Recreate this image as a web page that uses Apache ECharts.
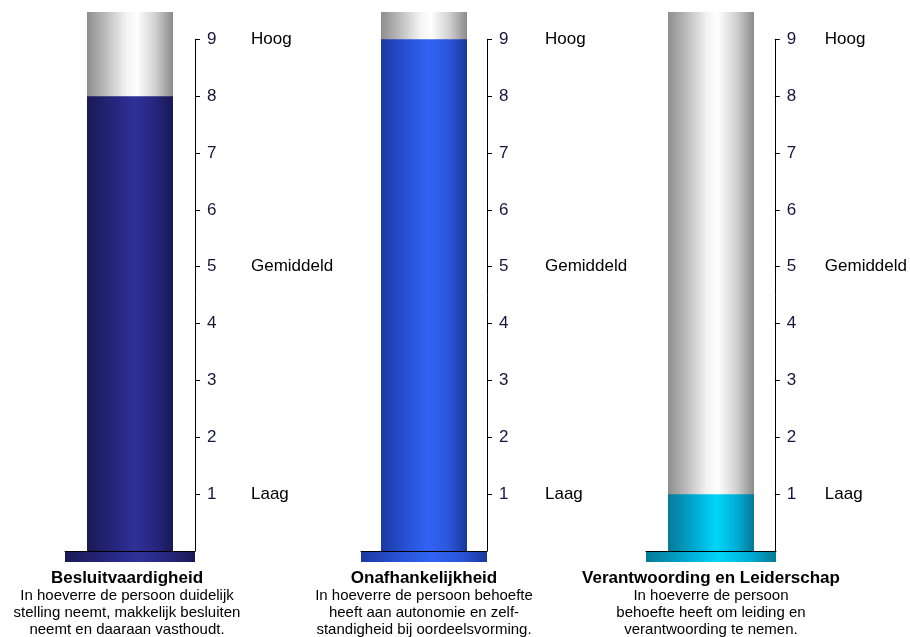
<!DOCTYPE html>
<html><head><meta charset="utf-8">
<script src="https://cdn.jsdelivr.net/npm/echarts@6/dist/echarts.min.js"></script>
<style>html,body{margin:0;padding:0;background:#fff}#c{width:910px;height:637px}</style>
</head><body><div id="c"></div>
<script>
// ---- data ----
const categories = ['Besluitvaardigheid', 'Onafhankelijkheid', 'Verantwoording en Leiderschap'];
const scores = [8, 9, 1];
const descriptions = [
  ['In hoeverre de persoon duidelijk', 'stelling neemt, makkelijk besluiten', 'neemt en daaraan vasthoudt.'],
  ['In hoeverre de persoon behoefte', 'heeft aan autonomie en zelf-', 'standigheid bij oordeelsvorming.'],
  ['In hoeverre de persoon', 'behoefte heeft om leiding en', 'verantwoording te nemen.']
];
const scaleTicks = ['', '1', '2', '3', '4', '5', '6', '7', '8', '9'];
const tickValues = [1, 2, 3, 4, 5, 6, 7, 8, 9];
const levelLabels = ['', 'Laag', '', '', '', 'Gemiddeld', '', '', '', 'Hoog'];
const levelValues = [1, 5, 9];
const scaleMax = 9;
const tubeMax = 9.48;

// ---- layout / style ----
const FONT = '"Liberation Sans", Arial, sans-serif';
const cols = [
  { left: 65, width: 130, levelMargin: 56, captionX: 127 },
  { left: 361, width: 126, levelMargin: 58, captionX: 424 },
  { left: 646, width: 130, levelMargin: 50, captionX: 711 }
];
const baseY = 551, tubeTop = 12;
const unitPx = (baseY - tubeTop) / tubeMax;
const axisTop = baseY - unitPx * scaleMax;

function grad(colors, pos) {
  return { type: 'linear', x: 0, y: 0, x2: 1, y2: 0,
    colorStops: colors.map((c, k) => ({ offset: pos[k], color: c })) };
}
const fillPos = [0, 0.3, 0.56, 0.8, 1];
const fillColors = [
  ['#1a1a56', '#25257c', '#30309a', '#26267e', '#191955'],
  ['#1b39a0', '#2852d6', '#3164f5', '#2a55d8', '#1a379c'],
  ['#067a98', '#00a8d0', '#00d6fa', '#00aed6', '#067896']
];
const tubeGrad = grad(['#8e8e8e', '#b8b8b8', '#f2f2f2', '#ffffff', '#cfcfcf', '#8a8a8a'],
                      [0, 0.2, 0.45, 0.58, 0.8, 1]);

const grid = [], xAxis = [], yAxis = [], series = [], graphic = [];
cols.forEach((c, i) => {
  grid[i] = { left: c.left, width: c.width, top: tubeTop, height: baseY - tubeTop };
  grid[3 + i] = { left: c.left, width: c.width, top: axisTop, height: baseY - axisTop };
  xAxis[i] = { type: 'category', gridIndex: i, data: [categories[i]],
    axisLine: { show: true, lineStyle: { color: '#000', width: 1 } },
    axisTick: { show: false }, axisLabel: { show: false } };
  xAxis[3 + i] = { type: 'category', gridIndex: 3 + i, data: [categories[i]], show: false };
  yAxis[i] = { type: 'value', gridIndex: i, min: 0, max: tubeMax, show: false };
  yAxis[3 + i] = { type: 'value', gridIndex: 3 + i, position: 'right', min: 0, max: scaleMax, interval: 1,
    axisLine: { show: true, lineStyle: { color: '#000', width: 1 } },
    axisTick: { show: true, length: 5, customValues: tickValues, lineStyle: { color: '#000' } },
    splitLine: { show: false },
    axisLabel: { margin: 12, fontSize: 17, color: '#16163a', fontFamily: FONT, customValues: tickValues,
      formatter: v => scaleTicks[v] || '' } };
  yAxis[6 + i] = { type: 'value', gridIndex: 3 + i, position: 'right', min: 0, max: scaleMax, interval: 1,
    axisLine: { show: false }, axisTick: { show: false }, splitLine: { show: false },
    axisLabel: { margin: c.levelMargin, fontSize: 17, color: '#000', fontFamily: FONT, customValues: levelValues,
      formatter: v => levelLabels[v] || '' } };
  series.push({ type: 'bar', xAxisIndex: i, yAxisIndex: i, data: [scores[i]], barWidth: 86,
    showBackground: true, backgroundStyle: { color: tubeGrad },
    itemStyle: { color: grad(fillColors[i], fillPos) }, silent: true });
  graphic.push({ type: 'rect', shape: { x: c.left, y: baseY + 1, width: c.width, height: 10 },
    style: { fill: grad(fillColors[i], fillPos) }, silent: true });
  graphic.push({ type: 'text', x: c.captionX, y: 578,
    style: { text: categories[i], font: 'bold 17px ' + FONT, fill: '#000', align: 'center', verticalAlign: 'middle' } });
  graphic.push({ type: 'text', x: c.captionX, y: 587.7,
    style: { text: descriptions[i].join('\n'), font: '15px ' + FONT, lineHeight: 16.7, fill: '#000',
      align: 'center', verticalAlign: 'top' } });
});

const chart = echarts.init(document.getElementById('c'), null, { renderer: 'canvas' });
chart.setOption({ animation: false, backgroundColor: '#fff', grid, xAxis, yAxis, series, graphic });
</script>
</body></html>
